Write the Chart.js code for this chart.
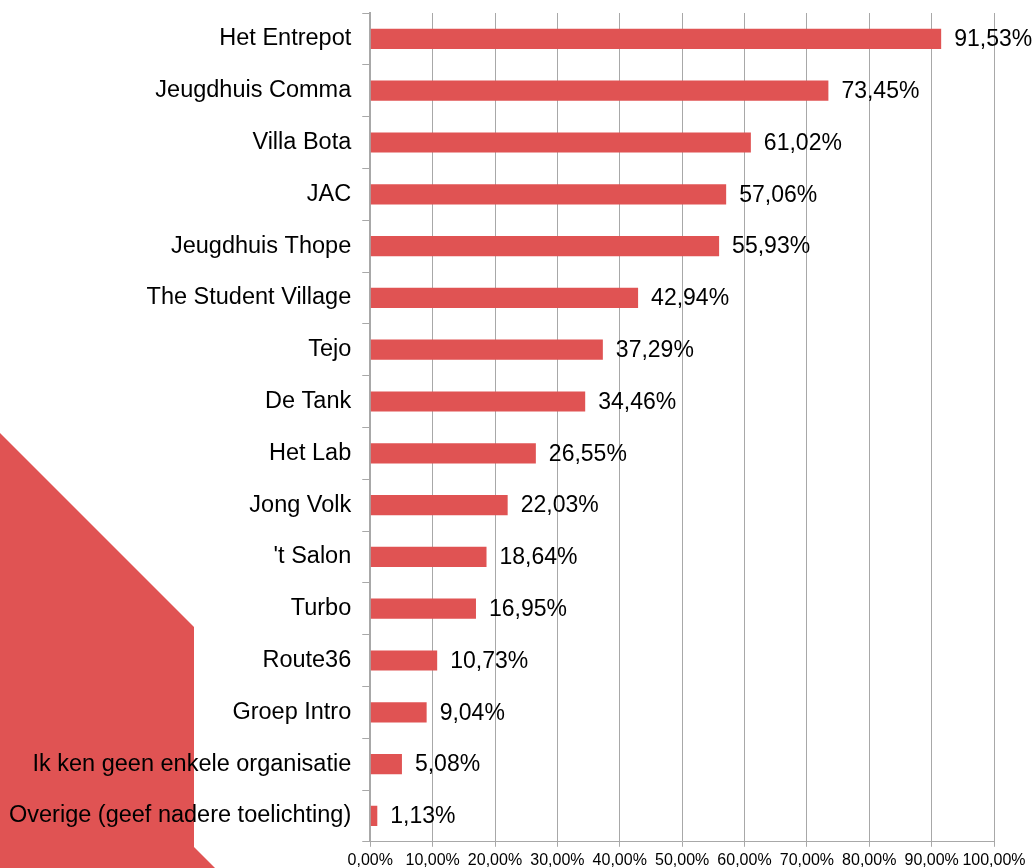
<!DOCTYPE html>
<html>
<head>
<meta charset="utf-8">
<script src="https://cdn.jsdelivr.net/npm/chart.js@4.4.1/dist/chart.umd.min.js"></script>
<style>
    body { margin: 0; background: #fff; }
    #wrap { width: 1036px; height: 868px; position: relative; }
</style>
</head>
<body>
<div id="wrap"><canvas id="myChart"></canvas></div>
<script>
// categories, top to bottom
const organisaties = [
    "Het Entrepot",
    "Jeugdhuis Comma",
    "Villa Bota",
    "JAC",
    "Jeugdhuis Thope",
    "The Student Village",
    "Tejo",
    "De Tank",
    "Het Lab",
    "Jong Volk",
    "'t Salon",
    "Turbo",
    "Route36",
    "Groep Intro",
    "Ik ken geen enkele organisatie",
    "Overige (geef nadere toelichting)",
];

// percentages
const percentages = [91.53, 73.45, 61.02, 57.06, 55.93, 42.94, 37.29, 34.46, 26.55, 22.03, 18.64, 16.95, 10.73, 9.04, 5.08, 1.13];

const xTicks = [0, 10, 20, 30, 40, 50, 60, 70, 80, 90, 100];

const RED = "#e05353";
const GRID = "#a8a8a8";

function fmt(v) {
    return v.toFixed(2).replace(".", ",") + "%";
}

// red decorative shape in the background
const backgroundShape = {
    id: "backgroundShape",
    beforeDraw(chart) {
        const ctx = chart.ctx;
        ctx.save();
        ctx.fillStyle = RED;
        ctx.beginPath();
        ctx.moveTo(0, 433);
        ctx.lineTo(194, 627);
        ctx.lineTo(194, 847);
        ctx.lineTo(215, 868);
        ctx.lineTo(0, 868);
        ctx.closePath();
        ctx.fill();
        ctx.restore();
    },
};

// value labels to the right of each bar
const valueLabels = {
    id: "valueLabels",
    afterDatasetsDraw(chart) {
        const ctx = chart.ctx;
        const meta = chart.getDatasetMeta(0);
        ctx.save();
        ctx.font = "23px 'Liberation Sans', Arial, sans-serif";
        ctx.fillStyle = "#000";
        ctx.textAlign = "left";
        ctx.textBaseline = "middle";
        meta.data.forEach(function (bar, i) {
            ctx.fillText(fmt(percentages[i]), bar.x + 13, bar.y + 1);
        });
        ctx.restore();
    },
};

const data = {
    labels: organisaties,
    datasets: [
        {
            data: percentages,
            backgroundColor: RED,
            borderWidth: 0,
            barPercentage: 0.39,
            categoryPercentage: 1,
        },
    ],
};

const config = {
    type: "bar",
    data,
    options: {
        indexAxis: "y",
        responsive: true,
        maintainAspectRatio: false,
        animation: false,
        layout: { padding: { top: 13, right: 42, left: -2, bottom: -6 } },
        plugins: {
            legend: { display: false },
            tooltip: { enabled: false },
        },
        scales: {
            x: {
                min: 0,
                max: 100,
                afterBuildTicks(axis) {
                    axis.ticks = xTicks.map(function (v) { return { value: v }; });
                },
                grid: { color: GRID, lineWidth: 1, tickLength: 5 },
                border: { color: GRID, width: 1 },
                ticks: {
                    color: "#000",
                    font: { family: "'Liberation Sans', Arial, sans-serif", size: 16 },
                    padding: 4,
                    maxRotation: 0,
                    autoSkip: false,
                    callback: function (v) { return fmt(v); },
                },
            },
            y: {
                // labels sit between the category ticks, no extra room needed above
                afterFit(axis) {
                    axis.paddingTop = 0;
                    axis.paddingBottom = 0;
                },
                grid: { drawOnChartArea: false, color: GRID, tickLength: 8, offset: true },
                border: { color: GRID, width: 2 },
                ticks: {
                    color: "#000",
                    font: { family: "'Liberation Sans', Arial, sans-serif", size: 23.5 },
                    padding: 11,
                    autoSkip: false,
                },
            },
        },
    },
    plugins: [backgroundShape, valueLabels],
};

var myChart = new Chart(document.getElementById("myChart"), config);
</script>
</body>
</html>
